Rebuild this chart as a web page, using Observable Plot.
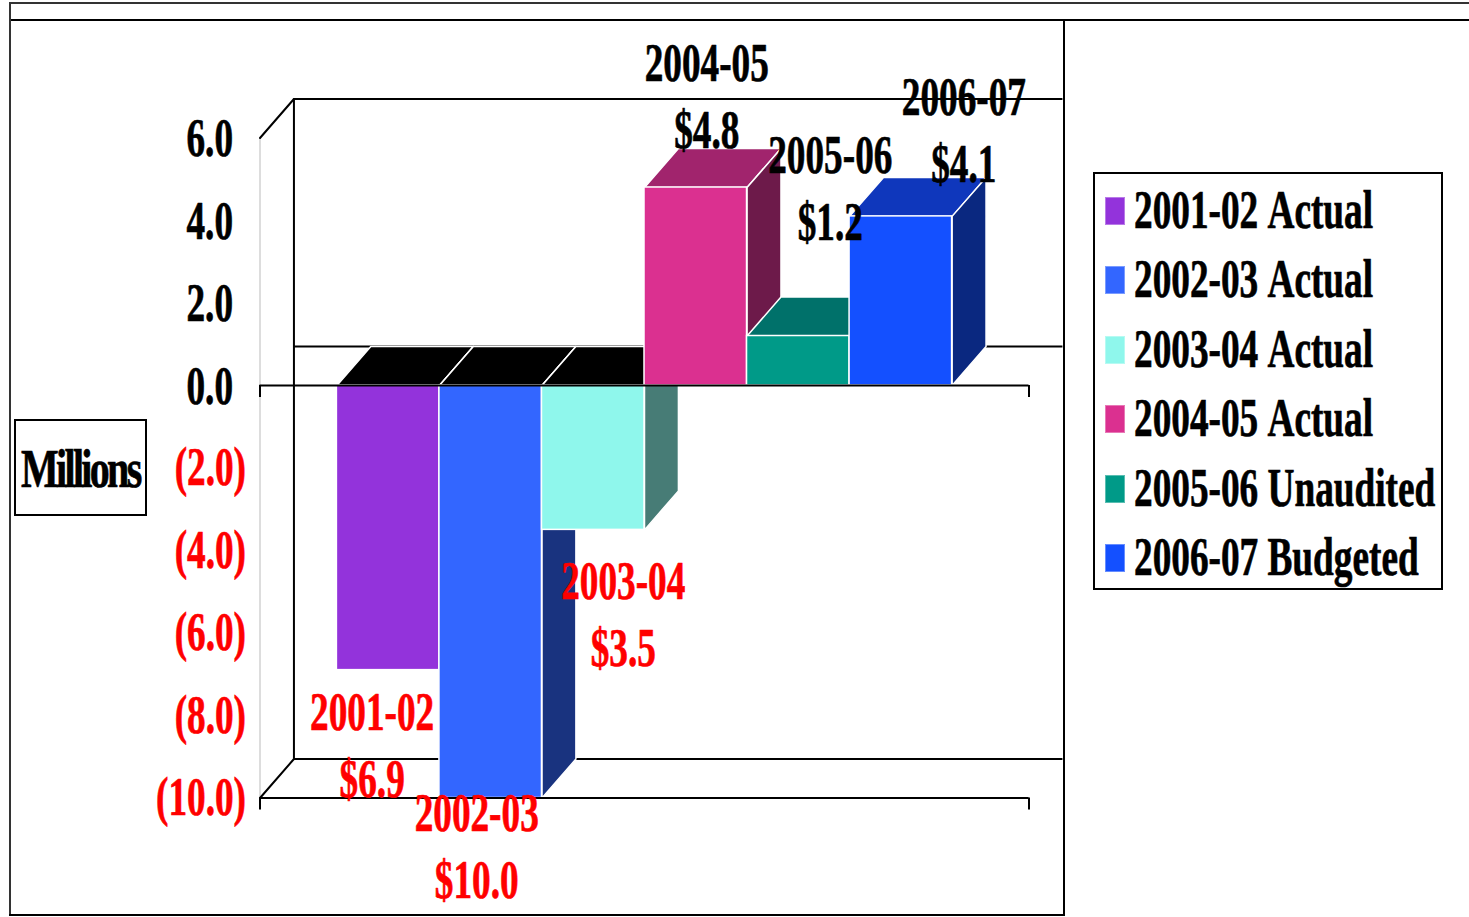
<!DOCTYPE html>
<html>
<head>
<meta charset="utf-8">
<title>Millions by fiscal year</title>
<script src="https://cdn.jsdelivr.net/npm/d3@7"></script>
<script src="https://cdn.jsdelivr.net/npm/@observablehq/plot@0.6"></script>
<style>
  html, body { margin: 0; padding: 0; background: #fff; }
  #page { position: relative; width: 1469px; height: 917px; overflow: hidden;
          font: bold 54px "Liberation Serif", serif; color: #000; }
  #page svg { position: absolute; left: 0; top: 0; }
  #page svg text { stroke-width: 0.7px; paint-order: stroke; }
  .line { position: absolute; background: #000; }
  .box { position: absolute; box-sizing: border-box; border: 2px solid #000; background: #fff; }
  .squeezed { display: inline-block; white-space: nowrap; transform: scaleX(0.69); transform-origin: left center;
              -webkit-text-stroke: 0.7px #000; font-kerning: none; }
  #legend { left: 1093px; top: 172px; width: 350px; height: 418px; padding-top: 2px; }
  .row { position: relative; height: 69.4px; line-height: 69.4px; }
  .swatch { position: absolute; left: 10px; top: 21px; width: 20px; height: 28px; border: 1px solid rgba(255,255,255,.35); box-sizing: border-box; }
  .row .squeezed { position: absolute; left: 39px; top: 0; }
  #unit { left: 14px; top: 419px; width: 133px; height: 97px; line-height: 97px; }
  #unit .squeezed { position: absolute; left: 5px; top: 0; transform: scaleX(0.74); letter-spacing: -3.6px; }
</style>
</head>
<body>
<div id="page">
  <div class="line" style="left:9px;top:2px;width:1460px;height:2px;background:#333"></div>
  <div class="line" style="left:9px;top:19px;width:1460px;height:2px"></div>
  <div class="line" style="left:9px;top:2px;width:2px;height:914px;background:#333"></div>
  <div class="line" style="left:1063px;top:19px;width:2px;height:897px"></div>
  <div class="line" style="left:9px;top:914px;width:1056px;height:2px"></div>
  <div class="box" id="unit"><span class="squeezed">Millions</span></div>
  <div class="box" id="legend"></div>
</div>
<script>
// Fiscal years and their results, in millions of dollars
const categories = ["2001-02", "2002-03", "2003-04", "2004-05", "2005-06", "2006-07"];
const values = [-6.9, -10.0, -3.5, 4.8, 1.2, 4.1];
const statuses = ["Actual", "Actual", "Actual", "Actual", "Unaudited", "Budgeted"];
const yTicks = [6, 4, 2, 0, -2, -4, -6, -8, -10];

// Shades of each column: front, lit top, shaded side
const frontColors = ["#9333db", "#3366ff", "#8ff7ec", "#db3090", "#009a88", "#1450ff"];
const topColors = ["#000000", "#000000", "#000000", "#a1246d", "#00716a", "#0f37bc"];
const sideColors = ["#4a1a6e", "#19337f", "#477c76", "#6d1a4a", "#004d44", "#0a2880"];

// Value labels sit by hand around their columns: pixel shifts from the top or bottom of each
const labelShifts = [[-16, 127], [-14, 100], [30, 136], [11, -40], [32, -96.5], [63, -34]];

// Oblique depth of the 3-D box, in axis units
const depthX = 0.331;
const depthY = 0.945;
const tickDrop = 0.29;
const xMin = -0.75;
const xMax = 6.75;
const yMin = -10;
const yMax = 6;

const closed = (pts, id, color) => [...pts, pts[0]].map(([x, y]) => ({x, y, id, color}));

// Top and side of a column, both sheared back from its front face
function faces(i) {
  const v = values[i];
  const a = i, b = i + 1;
  const top = v > 0 ? v : 0;
  return [
    ...closed([[a, top], [a + depthX, top + depthY], [b + depthX, top + depthY], [b, top]], `top${i}`, topColors[i]),
    ...closed([[b, Math.max(v, 0)], [b + depthX, Math.max(v, 0) + depthY], [b + depthX, Math.min(v, 0) + depthY], [b, Math.min(v, 0)]], `side${i}`, sideColors[i])
  ];
}

const axisFont = {fontFamily: "Liberation Serif, serif", fontWeight: "bold", fontSize: 54};
const wall = {stroke: "#000", strokeWidth: 2};

const columnMarks = categories.flatMap((c, i) => [
  Plot.line(faces(i), {x: "x", y: "y", z: "id", fill: "color", stroke: "#fff", strokeWidth: 1.5}),
  Plot.rect([i], {x1: i, x2: i + 1, y1: 0, y2: values[i], fill: frontColors[i], stroke: "#fff", strokeWidth: 1.5})
]);

const labelMarks = categories.map((c, i) => Plot.text(
  [`${c}\n$${Math.abs(values[i]).toFixed(1)}`],
  {
    x: i + 0.5, y: values[i], text: d => d,
    dx: labelShifts[i][0], dy: labelShifts[i][1],
    lineAnchor: "bottom", lineHeight: 1.24, textAnchor: "middle",
    fill: values[i] < 0 ? "#ff0000" : "#000000",
    stroke: values[i] < 0 ? "#ff0000" : "#000000", ...axisFont
  }
));

const chart = Plot.plot({
  width: 1469,
  height: 917,
  margin: 0,
  style: {background: "transparent", overflow: "visible"},
  x: {type: "linear", domain: [xMin, xMax], range: [259.5, 1028.5], axis: null},
  y: {type: "linear", domain: [yMin, yMax], range: [797.5, 137.5], axis: null},
  color: {type: "identity"},
  marks: [
    // Back wall with its top, zero and floor edges
    Plot.ruleX([xMin + depthX], {y1: yMin + depthY, y2: yMax + depthY, ...wall}),
    Plot.ruleY([yMax + depthY, depthY, yMin + depthY], {x1: xMin + depthX, x2: xMax + depthX, ...wall}),
    // Side wall
    Plot.ruleX([xMin], {y1: yMin, y2: yMax, stroke: "#bbb", strokeWidth: 1}),
    Plot.line([[xMin, yMax], [xMin + depthX, yMax + depthY]], {x: "0", y: "1", ...wall}),
    Plot.line([[xMin, yMin], [xMin + depthX, yMin + depthY]], {x: "0", y: "1", ...wall}),
    ...columnMarks,
    // Front axis lines and their end ticks
    Plot.ruleY([0, yMin], {x1: xMin, x2: xMax, ...wall}),
    Plot.ruleX([xMin, xMax], {y1: 0, y2: -tickDrop, ...wall}),
    Plot.ruleX([xMin, xMax], {y1: yMin, y2: yMin - tickDrop, ...wall}),
    // Value axis labels: positives black, negatives red in accounting parentheses
    Plot.text(yTicks.filter(t => t >= 0), {x: xMin, y: d => d, text: d => d.toFixed(1), textAnchor: "end", dx: -27, dy: 1, fill: "#000", stroke: "#000", ...axisFont}),
    Plot.text(yTicks.filter(t => t < 0), {x: xMin, y: d => d, text: d => `(${Math.abs(d).toFixed(1)})`, textAnchor: "end", dx: -14, dy: 0, fill: "#ff0000", stroke: "#ff0000", ...axisFont}),
    ...labelMarks
  ]
});

// The face is set narrow: squeeze each label around its anchor
d3.select(chart).selectAll("text").each(function () {
  const t = this.getAttribute("transform") || "";
  this.setAttribute("transform", `${t} scale(0.69,1)`);
});

const page = document.getElementById("page");
page.insertBefore(chart, document.getElementById("unit"));

// Legend rows
const legend = d3.select("#legend");
categories.forEach((c, i) => {
  const row = legend.append("div").attr("class", "row");
  row.append("div").attr("class", "swatch").style("background", frontColors[i]);
  row.append("span").attr("class", "squeezed").text(`${c} ${statuses[i]}`);
});
</script>
</body>
</html>
